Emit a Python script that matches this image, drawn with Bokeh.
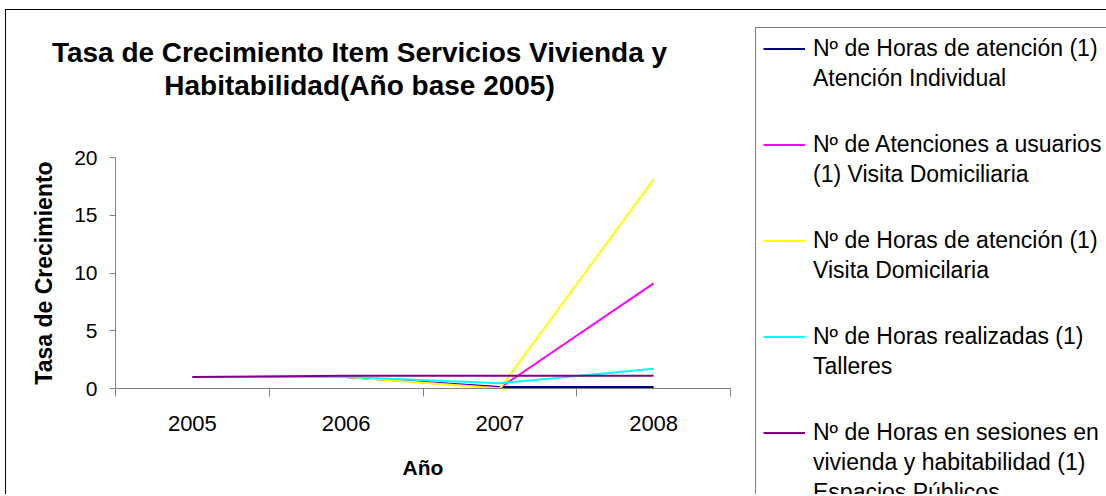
from bokeh.plotting import figure
from bokeh.layouts import row, column
from bokeh.models import (FactorRange, Range1d, CategoricalAxis, LinearAxis, FixedTicker,
                          Legend, LegendItem, Label)
from bokeh.embed import file_html
from bokeh.resources import INLINE

# ---------------- data ----------------
years = ["2005", "2006", "2007", "2008"]
atencion_individual = [1.0, 1.0, 0.12, 0.12]
atenciones_visita = [1.0, 1.0, 0.05, 9.1]
horas_visita = [1.0, 1.0, 0.0, 18.1]
horas_talleres = [1.0, 1.0, 0.45, 1.7]
horas_espacios = [1.0, 1.1, 1.1, 1.1]

series_labels = [
    ["Nº de Horas de atención (1)", "Atención Individual"],
    ["Nº de Atenciones a usuarios", "(1) Visita Domiciliaria"],
    ["Nº de Horas de atención (1)", "Visita Domicilaria"],
    ["Nº de Horas realizadas (1)", "Talleres"],
    ["Nº de Horas en sesiones en", "vivienda y habitabilidad (1)", "Espacios Públicos"],
]
series_values = [atencion_individual, atenciones_visita, horas_visita, horas_talleres, horas_espacios]
series_colors = ["#000080", "#FF00FF", "#FFFF00", "#00FFFF", "#800080"]

y_ticks = [0, 5, 10, 15, 20]
title_lines = ["Tasa de Crecimiento Item Servicios Vivienda y", "Habitabilidad(Año base 2005)"]
x_title = "Año"
y_title = "Tasa de Crecimiento"

FONT = "Liberation Sans"
AXIS_GREY = "#808080"
LEFT_W, TITLE_H, TOTAL_H, LEG_W = 731, 130, 494, 375


def bare(fig):
    fig.outline_line_color = None
    fig.grid.visible = False
    fig.background_fill_color = "white"
    fig.border_fill_color = "white"
    return fig


# ---------------- title strip ----------------
pt = bare(figure(x_range=Range1d(0, LEFT_W), y_range=Range1d(TITLE_H, 0),
                 width=LEFT_W, height=TITLE_H, output_backend="svg", toolbar_location=None,
                 x_axis_location=None, y_axis_location=None,
                 min_border_left=0, min_border_right=0, min_border_top=0, min_border_bottom=0))
if "frame_align" in pt.properties():
    pt.frame_align = False
for i, line in enumerate(title_lines):
    pt.add_layout(Label(x=359, y=52 + 33 * i, text=line, text_align="center",
                        text_baseline="alphabetic", text_font=FONT, text_font_size="28px",
                        text_font_style="bold", text_color="black"))

# ---------------- main chart ----------------
p = bare(figure(x_range=FactorRange(factors=years, range_padding=0), y_range=Range1d(0, 20),
                width=LEFT_W, height=TOTAL_H - TITLE_H, output_backend="svg",
                toolbar_location=None, x_axis_location=None, y_axis_location="left",
                min_border_left=115, min_border_right=1, min_border_top=27,
                min_border_bottom=TOTAL_H - TITLE_H - 27 - 231))

yax = p.yaxis[0]
yax.ticker = FixedTicker(ticks=y_ticks)
yax.axis_label = y_title
yax.axis_label_text_font = FONT
yax.axis_label_text_font_size = "23px"
yax.axis_label_text_font_style = "bold"
yax.axis_label_text_color = "black"
yax.axis_label_standoff = 14
yax.major_label_text_font = FONT
yax.major_label_text_font_size = "21px"
yax.major_label_text_color = "black"
yax.major_label_standoff = 12
yax.major_tick_in = 0
yax.major_tick_out = 6
yax.minor_tick_in = 0
yax.minor_tick_out = 0
yax.axis_line_color = AXIS_GREY
yax.major_tick_line_color = AXIS_GREY

# boundary tick marks between the categories (synthetic coordinates 0..n)
edge_axis = LinearAxis(ticker=FixedTicker(ticks=list(range(len(years) + 1)), minor_ticks=[]),
                       major_label_overrides={i: "" for i in range(len(years) + 1)},
                       major_label_text_font_size="0px", major_label_standoff=0,
                       major_tick_in=0, major_tick_out=8, minor_tick_in=0, minor_tick_out=0,
                       axis_line_color=AXIS_GREY, major_tick_line_color=AXIS_GREY)
p.add_layout(edge_axis, "below")

cat_axis = CategoricalAxis(axis_line_color=None, major_tick_line_color=None,
                           major_tick_in=0, major_tick_out=0,
                           major_label_text_font=FONT, major_label_text_font_size="22px",
                           major_label_text_color="black", major_label_standoff=19,
                           axis_label=x_title, axis_label_text_font=FONT,
                           axis_label_text_font_size="21px", axis_label_text_font_style="bold",
                           axis_label_text_color="black", axis_label_standoff=22)
p.add_layout(cat_axis, "below")

for vals, col in zip(series_values, series_colors):
    p.line(x=years, y=vals, line_color=col, line_width=2)

# ---------------- legend panel ----------------
# same series drawn outside the visible y window, so only their legend samples show
pl = bare(figure(x_range=FactorRange(factors=years), y_range=Range1d(-2, -1),
                 width=LEG_W, height=TOTAL_H, output_backend="svg", toolbar_location=None,
                 x_axis_location=None, y_axis_location=None,
                 min_border_left=0, min_border_right=0, min_border_top=0, min_border_bottom=0))
blank = pl.line(x=[], y=[], line_alpha=0)
items = []
for k, (lab, vals, col) in enumerate(zip(series_labels, series_values, series_colors)):
    r = pl.line(x=years, y=vals, line_color=col, line_width=2)
    items.append(LegendItem(label=lab[0], renderers=[r]))
    for extra in lab[1:]:
        items.append(LegendItem(label=extra, renderers=[blank]))
    if k < len(series_labels) - 1:
        items.append(LegendItem(label=" ", renderers=[blank]))
        items.append(LegendItem(label=" ", renderers=[blank]))

legend = Legend(items=items, location=(24, TOTAL_H - 514), orientation="vertical",
                border_line_color="black", border_line_width=1,
                background_fill_color="white", background_fill_alpha=1,
                label_text_font=FONT, label_text_font_size="23px", label_text_color="black",
                glyph_width=42, glyph_height=15, label_height=15, label_standoff=8,
                padding=7, spacing=3, margin=0)
pl.add_layout(legend, "center")

layout = row(column(pt, p, spacing=0), pl, spacing=0)
layout.stylesheets = [":host { position: relative; } :host::after { content: ''; position: absolute; "
                      "left: 5px; top: 9px; right: 0; bottom: 0; border-top: 1px solid #000; "
                      "border-left: 1px solid #000; pointer-events: none; z-index: 5; }"]

open("out.html", "w").write(file_html(layout, INLINE))
